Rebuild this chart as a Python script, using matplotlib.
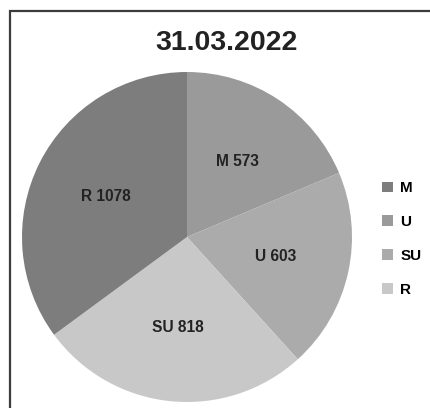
import numpy as np
import matplotlib
matplotlib.use("Agg")
import matplotlib.pyplot as plt
from matplotlib.patches import Rectangle, Patch

plt.rcParams['font.family'] = ['Liberation Sans', 'DejaVu Sans']

title = "31.03.2022"
categories = ["M", "U", "SU", "R"]
values = [573, 603, 818, 1078]
slice_colors = ["#9a9a9a", "#ababab", "#c8c8c8", "#7d7d7d"]
legend_colors = ["#7d7d7d", "#9a9a9a", "#ababab", "#c8c8c8"]

W, H = 431, 408
fig = plt.figure(figsize=(W / 100, H / 100), dpi=100)
fig.patch.set_facecolor("white")

# frame (left/top visible, right/bottom cropped)
fig.patches.append(Rectangle((10 / W, -0.1), 1.2, 1 - 11 / H + 0.1,
                             transform=fig.transFigure, fill=False,
                             edgecolor="#3c3c3c", linewidth=1.6))

cx, cy, r = 187, 237, 165
ax = fig.add_axes([(cx - r) / W, (H - cy - r) / H, 2 * r / W, 2 * r / H])
wedges, _ = ax.pie(values, colors=slice_colors, startangle=90, counterclock=False,
                   radius=1.0, wedgeprops=dict(linewidth=0))
ax.set_xlim(-1, 1)
ax.set_ylim(-1, 1)
ax.set_aspect("auto")

for w, cat, val in zip(wedges, categories, values):
    ang = np.deg2rad((w.theta1 + w.theta2) / 2)
    ax.text(0.55 * np.cos(ang), 0.55 * np.sin(ang), f"{cat} {val}", ha="center", va="center",
            fontsize=11.2, fontweight="bold", color="#222222")

fig.text(227 / W, 1 - 43 / H, title, ha="center", va="center", fontsize=20.5,
         fontweight="bold", color="#222222")

handles = [Patch(facecolor=c, edgecolor="none") for c in legend_colors]
fig.legend(handles, categories, loc="center left", bbox_to_anchor=(382 / W, 1 - 239 / H),
           frameon=False, prop=dict(weight="bold", size=11), handlelength=0.75,
           handleheight=0.7, handletextpad=0.45, labelspacing=1.3, borderaxespad=0,
           borderpad=0)

fig.savefig("out.png", dpi=100)
